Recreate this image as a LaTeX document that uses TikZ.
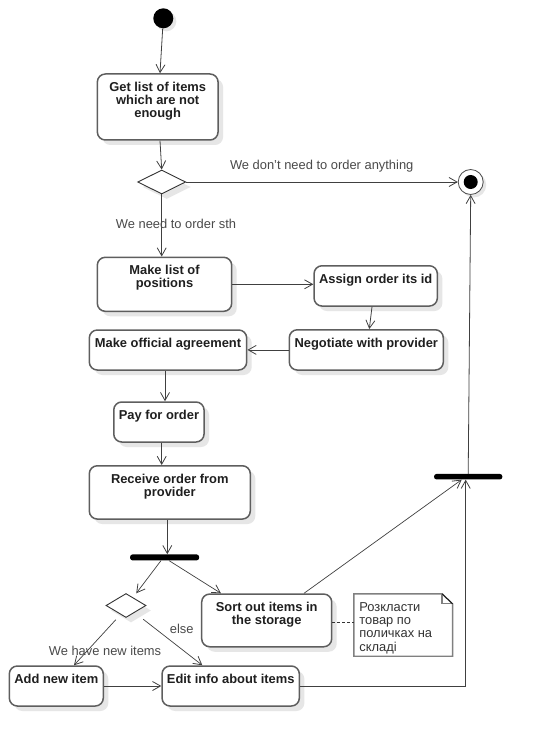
\documentclass[tikz,border=0pt]{standalone}
\usepackage{fontspec}
\setmainfont{Liberation Sans}
\usetikzlibrary{arrows.meta,shapes.geometric,shadows}
\definecolor{boxline}{HTML}{5E5E5E}
\definecolor{flowline}{HTML}{404040}
\definecolor{lbltext}{HTML}{4A4A4A}
\definecolor{shadowgray}{HTML}{E6E6E6}
\tikzset{
  sh/.style={drop shadow={shadow xshift=5pt,shadow yshift=-5pt,fill=shadowgray,opacity=1}},
  act/.style={draw=boxline,line width=1.5pt,rounded corners=8pt,fill=white,sh,inner sep=0pt},
  acttext/.style={font=\bfseries\fontsize{12.9}{13.3}\selectfont,align=center,inner sep=0pt,anchor=north,text=black!88},
  lbl/.style={font=\fontsize{12.9}{13.3}\selectfont,text=lbltext,inner sep=0pt},
  flow/.style={draw=flowline,line width=0.8pt,-{Straight Barb[length=8pt,width=9pt,line width=0.8pt]}},
  decision/.style={diamond,draw=black!80,line width=0.9pt,fill=white,sh,inner sep=0pt},
  barnode/.style={fill=black,rounded corners=2.5pt,inner sep=0pt,minimum height=6pt},
}
\begin{document}
\begin{tikzpicture}[x=1pt,y=-1pt]
\useasboundingbox (0,0) rectangle (543,746);
\fill[white] (0,0) rectangle (543,746);

% start and end
\fill[shadowgray] (166.3,21.3) circle (10);
\node[circle,fill=black,minimum size=20pt,inner sep=0pt] (init) at (163.3,18.3) {};
\fill[shadowgray] (473.7,185) circle (12.5);
\node[circle,draw=black!70,line width=0.8pt,fill=white,minimum size=25pt,inner sep=0pt] (final) at (470.7,182) {};
\node[circle,fill=black,minimum size=14pt,inner sep=0pt] (finalin) at (final.center) {};

% activity boxes
\node[act,minimum width=120.7pt,minimum height=66pt] (get) at (157.7,107) {};
\node[acttext] (getT) at ([yshift=-8.5pt]get.north) {Get list of items\\which are not\\enough};

\node[decision,minimum width=48pt,minimum height=24pt] (d1) at (161.7,182) {};

\node[act,minimum width=134.4pt,minimum height=54pt] (mk) at (164.5,284.3) {};
\node[acttext] (mkT) at ([yshift=-8.5pt]mk.north) {Make list of\\positions};

\node[act,minimum width=123.3pt,minimum height=40.3pt] (asg) at (375.7,285.9) {};
\node[acttext] (asgT) at ([yshift=-8.5pt]asg.north) {Assign order its id};

\node[act,minimum width=154pt,minimum height=40.3pt] (neg) at (366.3,349.9) {};
\node[acttext] (negT) at ([yshift=-8.5pt]neg.north) {Negotiate with provider};

\node[act,minimum width=157.4pt,minimum height=40pt] (off) at (168,350) {};
\node[acttext] (offT) at ([yshift=-8.5pt]off.north) {Make official agreement};

\node[act,minimum width=90.3pt,minimum height=40pt] (pay) at (158.9,422) {};
\node[acttext] (payT) at ([yshift=-8.5pt]pay.north) {Pay for order};

\node[act,minimum width=161pt,minimum height=53.3pt] (rcv) at (169.8,492.4) {};
\node[acttext] (rcvT) at ([yshift=-8.5pt]rcv.north) {Receive order from\\provider};

\node[barnode,minimum width=69pt] (fork) at (164.6,557.4) {};
\node[barnode,minimum width=68.3pt,minimum height=5.5pt] (join) at (468.2,476.7) {};

\node[decision,minimum width=40pt,minimum height=24pt] (d2) at (126,605.5) {};

\node[act,minimum width=130pt,minimum height=52.7pt] (sort) at (266.7,620.4) {};
\node[acttext] (sortT) at ([yshift=-8.5pt]sort.north) {Sort out items in\\the storage};

\node[act,minimum width=94pt,minimum height=40pt] (add) at (56.3,686) {};
\node[acttext] (addT) at ([yshift=-8.5pt]add.north) {Add new item};

\node[act,minimum width=137.3pt,minimum height=40pt] (edit) at (230.7,686) {};
\node[acttext] (editT) at ([yshift=-8.5pt]edit.north) {Edit info about items};

% note
\node[minimum width=98.3pt,minimum height=62pt,inner sep=0pt] (note) at (403.2,625) {};
\draw[draw=black!50,line width=1.4pt,fill=white]
  (note.north west) -- ([xshift=-10.5pt]note.north east) -- ([yshift=-10pt]note.north east)
  -- (note.south east) -- (note.south west) -- cycle;
\draw[draw=black!50,line width=1.2pt] ([xshift=-10.5pt]note.north east) -- ([xshift=-10.5pt,yshift=-10pt]note.north east) -- ([yshift=-10pt]note.north east);
\draw[black,line width=0.7pt] ([xshift=-10.5pt]note.north east) -- ([yshift=-10pt]note.north east);
\node[lbl,anchor=north west,align=left,text=black!80] (noteT) at ([xshift=5.3pt,yshift=-8.5pt]note.north west) {Розкласти\\товар по\\поличках на\\складі};

% connectors
\draw[flow] (init) -- ([xshift=2.3pt]get.north);
\draw[flow] ([xshift=2.3pt]get.south) -- (d1.north);
\draw[flow] (d1.east) -- (final.west);
\node[lbl] (lblNo) at (321.7,166) {We don't need to order anything};
\draw[flow] (d1.south) -- (d1.south |- mk.north);
\node[lbl] (lblYes) at (176,224) {We need to order sth};
\draw[flow] (mk.east) -- (mk.east -| asg.west);
\draw[flow] ([xshift=-3.7pt]asg.south) -- ([xshift=3pt]neg.north);
\draw[flow] (neg.west) -- (neg.west -| off.east);
\draw[flow] ([xshift=-3pt]off.south) -- ([xshift=-3pt]off.south |- pay.north);
\draw[flow] ([xshift=2.8pt]pay.south) -- ([xshift=2.8pt]pay.south |- rcv.north);
\draw[flow] ([xshift=-2.5pt]rcv.south) -- ([xshift=-2.5pt]rcv.south |- fork.north);
\draw[flow,line width=0.7pt] ([xshift=-3.6pt]fork.south) -- ([yshift=6pt]d2.north east);
\draw[flow,line width=0.7pt] ([xshift=4.4pt]fork.south) -- ([xshift=20pt]sort.north west);
\draw[flow,line width=0.7pt] ([yshift=-8pt]d2.south west) -- ([xshift=17.7pt]add.north);
\draw[flow,line width=0.7pt] ([xshift=7pt,yshift=-7.5pt]d2.south east) -- ([xshift=-28.4pt]edit.north);
\node[lbl] (lblElse) at (181.7,629.3) {else};
\node[lbl] (lblNew) at (105,650.7) {We have new items};
\draw[flow] (add.east) -- (add.east -| edit.west);
\draw[flow] (edit.east) -| ([xshift=-2.5pt]join.south);
\draw[flow,line width=0.7pt] ([xshift=37.3pt]sort.north) -- ([xshift=-6.5pt]join.south);
\draw[flow] (join.north) -- (final.south);
\draw[black!80,line width=0.8pt,dash pattern=on 2.5pt off 2.5pt] (sort.east |- 0,622.7) -- (note.west |- 0,622.7);
\end{tikzpicture}
\end{document}
